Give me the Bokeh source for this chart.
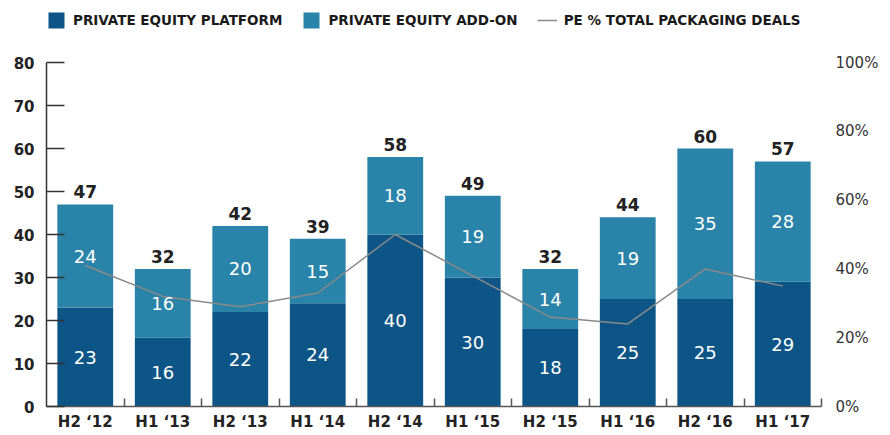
from bokeh.plotting import figure
from bokeh.models import (Range1d, LinearAxis, FixedTicker, NumeralTickFormatter,
                          Legend, LegendItem, ColumnDataSource)
from bokeh.core.properties import value
from bokeh.embed import file_html
from bokeh.resources import INLINE

# ---- data ----
periods = ["H2 \u201812", "H1 \u201813", "H2 \u201813", "H1 \u201814", "H2 \u201814",
           "H1 \u201815", "H2 \u201815", "H1 \u201816", "H2 \u201816", "H1 \u201817"]
platform = [23, 16, 22, 24, 40, 30, 18, 25, 25, 29]
addon = [24, 16, 20, 15, 18, 19, 14, 19, 35, 28]
totals = [47, 32, 42, 39, 58, 49, 32, 44, 60, 57]
pe_pct = [0.41, 0.32, 0.29, 0.33, 0.50, 0.38, 0.26, 0.24, 0.40, 0.35]
y_ticks = [0, 10, 20, 30, 40, 50, 60, 70, 80]
pct_ticks = [0, 0.2, 0.4, 0.6, 0.8, 1.0]

C_PLATFORM = "#0C5586"
C_ADDON = "#2A83A8"
C_LINE = "#8A8A8A"
FONT = "DejaVu Sans"

Y_AXIS_MAX = 80          # top of left axis
Y_VIEW_MAX = 92.1        # extra room above the axis for the legend
PCT_SCALE = Y_VIEW_MAX / Y_AXIS_MAX

x = list(range(1, len(periods) + 1))
boundaries = [v + 0.5 for v in x]

src = ColumnDataSource(dict(
    x=x,
    platform=platform,
    addon=addon,
    totals=totals,
    pe=pe_pct,
    platform_mid=[p_ / 2 for p_ in platform],
    addon_mid=[p_ + a / 2 for p_, a in zip(platform, addon)],
    platform_lbl=[str(v) for v in platform],
    addon_lbl=[str(v) for v in addon],
    total_lbl=[str(v) for v in totals],
))

p = figure(width=888, height=433, x_range=Range1d(0.5, len(x) + 0.5),
           y_range=Range1d(0, Y_VIEW_MAX), output_backend="svg", toolbar_location=None,
           min_border_left=46, min_border_right=67, min_border_top=10,
           min_border_bottom=26)
p.extra_y_ranges = {"pct": Range1d(0, PCT_SCALE)}
p.outline_line_color = None
p.xgrid.visible = False
p.ygrid.visible = False

bars = p.vbar_stack(["platform", "addon"], x="x", width=0.72,
                    fill_color=[C_PLATFORM, C_ADDON], line_color=[C_PLATFORM, C_ADDON],
                    line_width=0, source=src)

line = p.line("x", "pe", source=src, y_range_name="pct", line_color=C_LINE,
              line_width=1.5)

p.text(x="x", y="platform_mid", text="platform_lbl", source=src, text_color="white",
       text_align="center", text_baseline="middle", text_font=value(FONT),
       text_font_size="18px")
p.text(x="x", y="addon_mid", text="addon_lbl", source=src, text_color="white",
       text_align="center", text_baseline="middle", text_font=value(FONT),
       text_font_size="18px")
p.text(x="x", y="totals", text="total_lbl", source=src, text_color="#222222",
       text_align="center", text_baseline="bottom", y_offset=-6,
       text_font=value(FONT), text_font_style="bold", text_font_size="17px")

# x axis
xa = p.xaxis[0]
xa.ticker = FixedTicker(ticks=x, minor_ticks=boundaries)
xa.major_label_overrides = {k: v for k, v in zip(x, periods)}
xa.major_tick_in = 0
xa.major_tick_out = 0
xa.minor_tick_in = 8
xa.minor_tick_out = 0
xa.minor_tick_line_color = "#555555"
xa.minor_tick_line_width = 1.5
xa.axis_line_color = "#555555"
xa.axis_line_width = 1.5
xa.major_label_standoff = 6
xa.major_label_text_font = FONT
xa.major_label_text_font_style = "bold"
xa.major_label_text_font_size = "15px"
xa.major_label_text_color = "#222222"

# left axis
ya = p.yaxis[0]
ya.ticker = FixedTicker(ticks=y_ticks)
ya.bounds = (0, Y_AXIS_MAX)
ya.major_tick_in = 18
ya.major_tick_out = 0
ya.minor_tick_line_color = None
ya.axis_line_color = "#333333"
ya.axis_line_width = 1.5
ya.major_tick_line_color = "#333333"
ya.major_tick_line_width = 1.5
ya.major_label_standoff = 12
ya.major_label_text_font = FONT
ya.major_label_text_font_style = "bold"
ya.major_label_text_font_size = "15px"
ya.major_label_text_color = "#222222"

# right axis
ra = LinearAxis(y_range_name="pct", ticker=FixedTicker(ticks=pct_ticks),
                formatter=NumeralTickFormatter(format="0%"), bounds=(0, 1))
ra.axis_line_color = None
ra.major_tick_line_color = None
ra.minor_tick_line_color = None
ra.major_label_standoff = 8
ra.major_label_text_font = FONT
ra.major_label_text_font_size = "15px"
ra.major_label_text_color = "#333333"
p.add_layout(ra, "right")

legend = Legend(items=[
    LegendItem(label="PRIVATE EQUITY PLATFORM", renderers=[bars[0]]),
    LegendItem(label="PRIVATE EQUITY ADD-ON", renderers=[bars[1]]),
    LegendItem(label="PE % TOTAL PACKAGING DEALS", renderers=[line]),
], orientation="horizontal", location="top_left", glyph_width=20, glyph_height=20,
    label_standoff=7, spacing=19, padding=8, margin=0, border_line_color=None,
    background_fill_alpha=0, label_text_font=FONT, label_text_font_style="bold",
    label_text_font_size="13.5px", label_text_color="#1A1A1A")
p.add_layout(legend, "center")

open("out.html", "w").write(file_html(p, INLINE))
